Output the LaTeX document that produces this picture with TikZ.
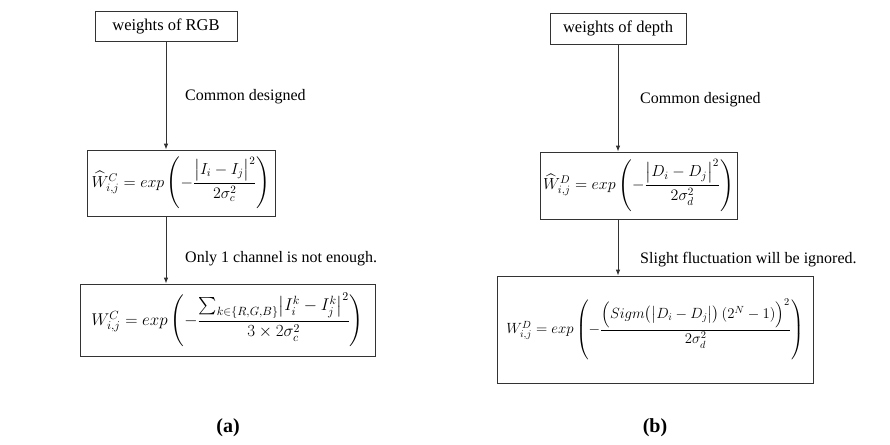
\documentclass[tikz,border=0pt]{standalone}
\usepackage{fix-cm}
\usepackage{amsmath}
\usepackage{fontspec}
\setmainfont{Liberation Serif}
\usetikzlibrary{arrows.meta}
\begin{document}
\begin{tikzpicture}[x=1pt,y=1pt,
  box/.style={draw=black!80, line width=0.8pt, inner sep=0pt, align=center},
  lbl/.style={anchor=west, inner sep=0pt, font=\fontsize{16}{19}\selectfont},
  conn/.style={draw=black!80, line width=0.8pt, -{Latex[length=6pt,width=4.5pt]}},
  captext/.style={inner sep=0pt, font=\fontsize{20}{24}\selectfont\bfseries},
  mathmid/.style={font=\fontsize{16}{19}\selectfont},
  mathbig/.style={font=\fontsize{17}{20}\selectfont},
  mathsmall/.style={font=\fontsize{14.8}{18}\selectfont}
]
\useasboundingbox (0,0) rectangle (890,-444);
% panel (a)
\node[box, minimum width=142, minimum height=30, font=\fontsize{16.5}{20}\selectfont] (a1) at (166,-26) {weights of RGB};
\node[box, mathmid, minimum width=188, minimum height=66] (a2) at (181,-183)
  {$\widehat{W}^{C}_{i,j} = exp\left(-\dfrac{\bigl|I_i - I_j\bigr|^2}{2\sigma_c^2}\right)$};
\node[box, mathbig, minimum width=295, minimum height=72] (a3) at (227.5,-320)
  {$W^{C}_{i,j} = exp\left(-\dfrac{\sum_{k\in\{R,G,B\}}\bigl|I_i^k - I_j^k\bigr|^2}{3\times 2\sigma_c^2}\right)$};
\draw[conn] (a1.south) -- (a1.south |- a2.north);
\draw[conn] (a1.south |- a2.south) -- (a1.south |- a3.north);
\node[lbl] (ta1) at (185,-97) {Common designed};
\node[lbl] (ta2) at (185,-259) {Only 1 channel is not enough.};
% panel (b)
\node[box, minimum width=136, minimum height=31, font=\fontsize{16.5}{20}\selectfont] (b1) at (618,-28.5) {weights of depth};
\node[box, mathmid, minimum width=197, minimum height=67] (b2) at (638.5,-185.5)
  {$\widehat{W}^{D}_{i,j} = exp\left(-\dfrac{\bigl|D_i - D_j\bigr|^2}{2\sigma_d^2}\right)$};
\node[box, mathsmall, minimum width=316, minimum height=107] (b3) at (655,-329.5)
  {$W^{D}_{i,j} = exp\left(-\dfrac{\Bigl(Sigm\bigl(\bigl|D_i - D_j\bigr|\bigr)\,(2^N-1)\Bigr)^2}{2\sigma_d^2}\right)$};
\draw[conn] (b1.south) -- (b1.south |- b2.north);
\draw[conn] (b1.south |- b2.south) -- (b1.south |- b3.north);
\node[lbl] (tb1) at (640,-100) {Common designed};
\node[lbl] (tb2) at (640,-260) {Slight fluctuation will be ignored.};
% captions
\node[captext] (capa) at (228,-428) {(a)};
\node[captext] (capb) at (655,-428) {(b)};
\end{tikzpicture}
\end{document}
